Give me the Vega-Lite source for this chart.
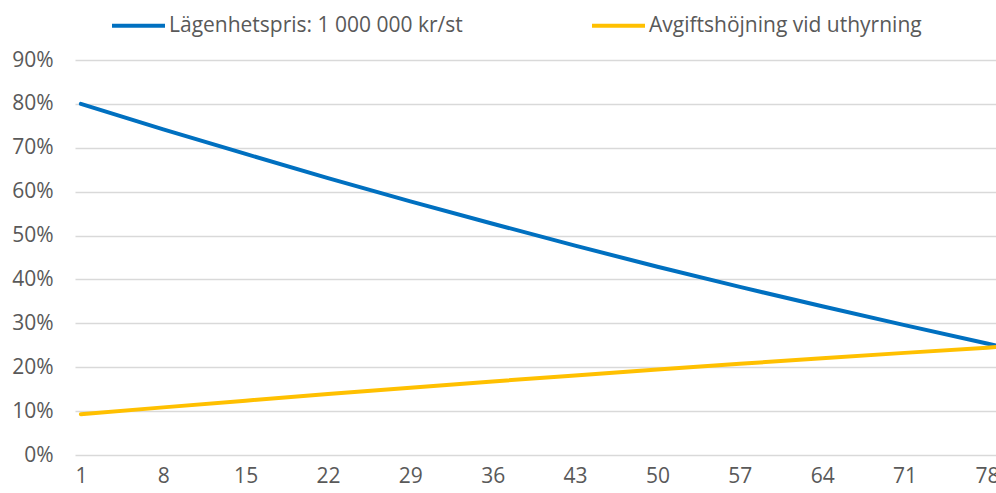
{
  "$schema": "https://vega.github.io/schema/vega-lite/v6.json",
  "width": 921,
  "height": 395,
  "autosize": {"type": "none"},
  "padding": {"left": 75, "top": 60, "right": 0, "bottom": 38},
  "config": {"font": "Open Sans", "view": {"stroke": null}, "background": "#ffffff"},
  "data": {
    "values": [
      {"i": 1, "serie": "Lägenhetspris: 1 000 000 kr/st", "v": 0.800},
      {"i": 8, "serie": "Lägenhetspris: 1 000 000 kr/st", "v": 0.742},
      {"i": 15, "serie": "Lägenhetspris: 1 000 000 kr/st", "v": 0.686},
      {"i": 22, "serie": "Lägenhetspris: 1 000 000 kr/st", "v": 0.631},
      {"i": 29, "serie": "Lägenhetspris: 1 000 000 kr/st", "v": 0.578},
      {"i": 36, "serie": "Lägenhetspris: 1 000 000 kr/st", "v": 0.527},
      {"i": 43, "serie": "Lägenhetspris: 1 000 000 kr/st", "v": 0.477},
      {"i": 50, "serie": "Lägenhetspris: 1 000 000 kr/st", "v": 0.429},
      {"i": 57, "serie": "Lägenhetspris: 1 000 000 kr/st", "v": 0.383},
      {"i": 64, "serie": "Lägenhetspris: 1 000 000 kr/st", "v": 0.339},
      {"i": 71, "serie": "Lägenhetspris: 1 000 000 kr/st", "v": 0.296},
      {"i": 78, "serie": "Lägenhetspris: 1 000 000 kr/st", "v": 0.254},
      {"i": 79, "serie": "Lägenhetspris: 1 000 000 kr/st", "v": 0.248},
      {"i": 1, "serie": "Avgiftshöjning vid uthyrning", "v": 0.093},
      {"i": 8, "serie": "Avgiftshöjning vid uthyrning", "v": 0.1085},
      {"i": 15, "serie": "Avgiftshöjning vid uthyrning", "v": 0.1238},
      {"i": 22, "serie": "Avgiftshöjning vid uthyrning", "v": 0.1388},
      {"i": 29, "serie": "Avgiftshöjning vid uthyrning", "v": 0.1534},
      {"i": 36, "serie": "Avgiftshöjning vid uthyrning", "v": 0.1676},
      {"i": 43, "serie": "Avgiftshöjning vid uthyrning", "v": 0.1814},
      {"i": 50, "serie": "Avgiftshöjning vid uthyrning", "v": 0.1948},
      {"i": 57, "serie": "Avgiftshöjning vid uthyrning", "v": 0.2079},
      {"i": 64, "serie": "Avgiftshöjning vid uthyrning", "v": 0.2204},
      {"i": 71, "serie": "Avgiftshöjning vid uthyrning", "v": 0.2327},
      {"i": 78, "serie": "Avgiftshöjning vid uthyrning", "v": 0.2446},
      {"i": 79, "serie": "Avgiftshöjning vid uthyrning", "v": 0.2462}
    ]
  },
  "mark": {"type": "line", "strokeWidth": 4, "strokeCap": "round", "clip": true},
  "encoding": {
    "x": {
      "field": "i",
      "type": "quantitative",
      "scale": {"domain": [0.5, 78.77], "nice": false, "zero": false},
      "axis": {
        "values": [1, 8, 15, 22, 29, 36, 43, 50, 57, 64, 71, 78],
        "title": null,
        "grid": false,
        "ticks": false,
        "tickSize": 0,
        "domain": false,
        "labelFontSize": 21,
        "labelColor": "#595959",
        "labelPadding": 10,
        "labelFlush": false,
        "labelOverlap": false
      }
    },
    "y": {
      "field": "v",
      "type": "quantitative",
      "scale": {"domain": [0, 0.9], "nice": false},
      "axis": {
        "values": [0, 0.1, 0.2, 0.3, 0.4, 0.5, 0.6, 0.7, 0.8, 0.9],
        "format": ".0%",
        "title": null,
        "grid": true,
        "gridColor": "#d9d9d9",
        "gridWidth": 1.5,
        "ticks": false,
        "domain": false,
        "labelFontSize": 21,
        "labelColor": "#595959",
        "labelPadding": 22
      }
    },
    "color": {
      "field": "serie",
      "type": "nominal",
      "sort": ["Lägenhetspris: 1 000 000 kr/st", "Avgiftshöjning vid uthyrning"],
      "scale": {
        "domain": ["Lägenhetspris: 1 000 000 kr/st", "Avgiftshöjning vid uthyrning"],
        "range": ["#0070C0", "#FFC000"]
      },
      "legend": {
        "title": null,
        "orient": "none",
        "legendX": 35,
        "legendY": -63,
        "direction": "horizontal",
        "symbolType": "stroke",
        "symbolSize": 2809,
        "symbolStrokeWidth": 4,
        "labelFontSize": 21,
        "labelColor": "#595959",
        "labelLimit": 600,
        "labelOffset": 2,
        "columnPadding": 121
      }
    }
  }
}
